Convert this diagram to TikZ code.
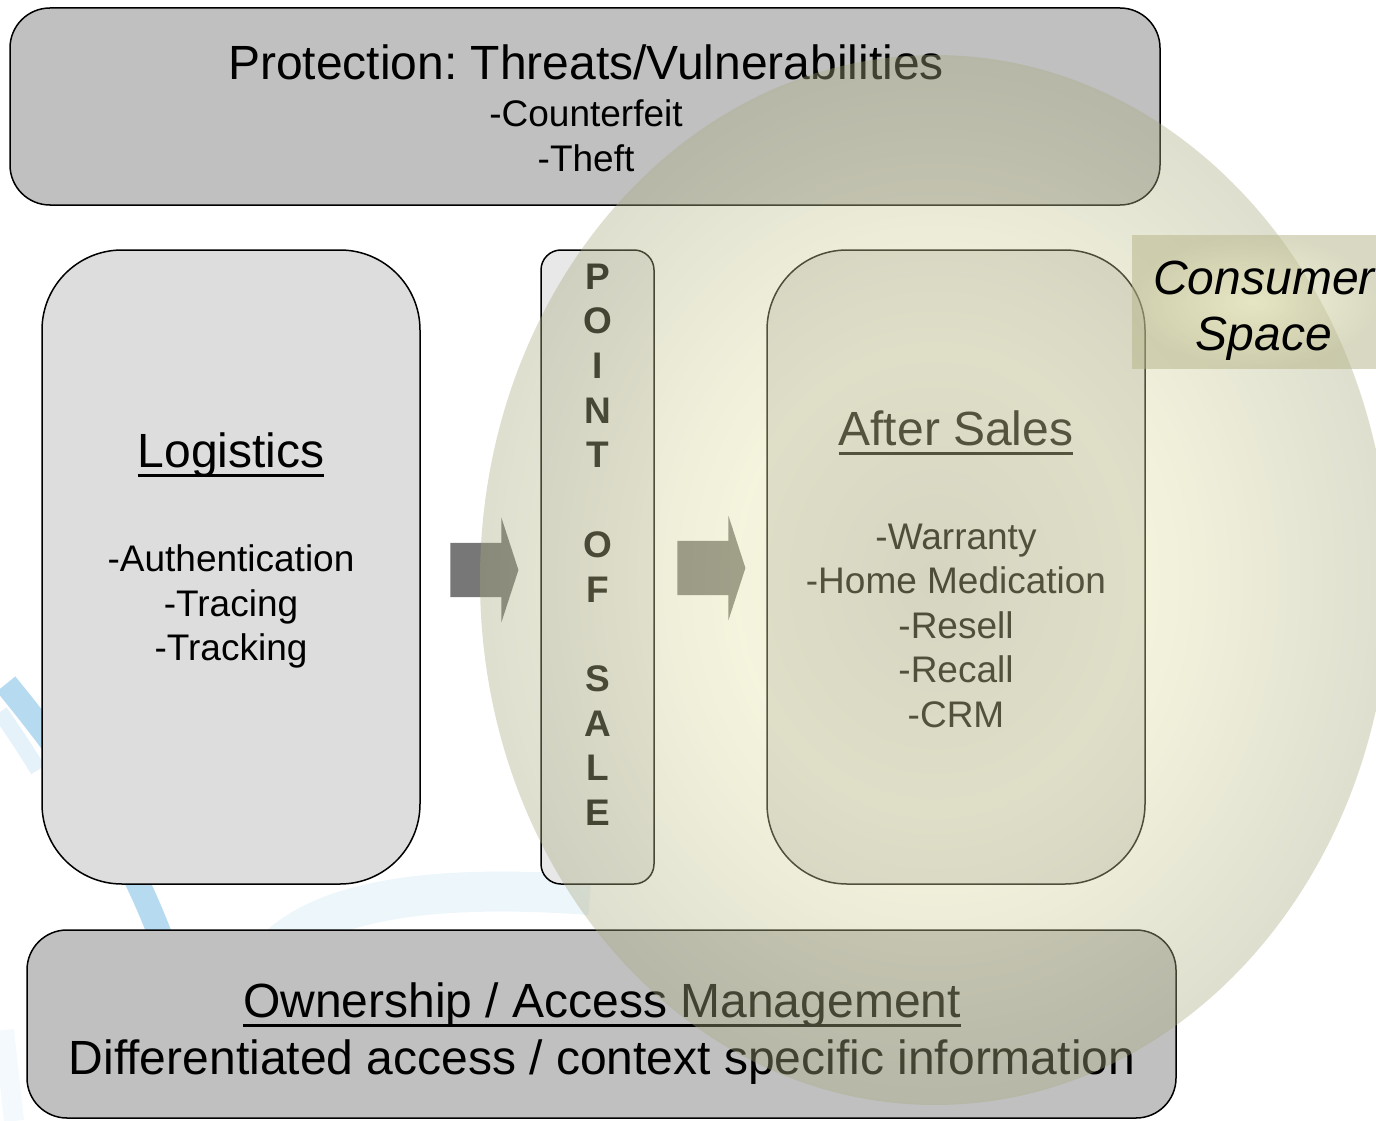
\documentclass[tikz,border=0pt]{standalone}
\usepackage{fontspec}
\setmainfont{Liberation Sans}
\usetikzlibrary{shapes.arrows}

\definecolor{topgray}{RGB}{192,192,192}
\definecolor{panelgray}{RGB}{221,221,221}
\definecolor{posgray}{RGB}{232,232,232}
\definecolor{arrowgray}{RGB}{119,119,119}
\definecolor{swoosh}{RGB}{150,202,234}
\definecolor{glowmid}{RGB}{200,200,150}
\definecolor{glowring}{RGB}{228,228,168}
\definecolor{glowedge}{RGB}{170,170,130}
\definecolor{patchin}{RGB}{232,232,180}
\definecolor{patchout}{RGB}{180,180,135}
\pgfdeclareradialshading{consumerglow}{\pgfpoint{0bp}{0bp}}{color(0bp)=(glowmid); color(11bp)=(glowring); color(25bp)=(glowedge); color(50bp)=(glowedge)}
\pgfdeclareradialshading{consumerpatch}{\pgfpoint{0bp}{0bp}}{color(0bp)=(patchin); color(25bp)=(patchout); color(50bp)=(patchout)}
\newcommand{\undl}[1]{\setbox0\hbox{#1}\rlap{\rule[-10pt]{\wd0}{2.6pt}}\box0}

\tikzset{
  panel/.style={draw=black, line width=1.5pt, inner sep=0pt},
  headtxt/.style={font=\fontsize{48}{57}\selectfont, inner sep=0pt, anchor=base},
  itemtxt/.style={font=\fontsize{37}{44.5}\selectfont, align=center, inner sep=0pt, anchor=north},
  flow/.style={single arrow, fill=arrowgray, inner xsep=0pt, inner ysep=27pt, minimum height=68pt,
    single arrow head extend=25pt, single arrow tip angle=144}
}

\begin{document}
\frenchspacing
\begin{tikzpicture}[x=1pt,y=-1pt]
   \useasboundingbox (0,0) rectangle (1376,1121);
   % faint logo in the background
   \draw[swoosh!70, line width=24pt] (6,684) .. controls (60,750) and (120,830) .. (160,935);
   \draw[swoosh!25, line width=16pt] (0,712) .. controls (14,732) and (26,750) .. (38,770);
   \draw[swoosh!18, line width=40pt] (275,950) .. controls (330,895) and (450,885) .. (590,895);
   \draw[swoosh!12, line width=20pt] (4,1030) -- (14,1121);

   \node[panel, fill=topgray, rounded corners=40pt, minimum width=1150pt, minimum height=197pt] (threats) at (585,106.5) {};
   \node[panel, fill=panelgray, rounded corners=80pt, minimum width=378pt, minimum height=634pt] (logistics) at (231,567) {};
   \node[panel, fill=posgray, rounded corners=20pt, minimum width=113pt, minimum height=634pt] (pos) at (597.5,567) {};
   \node[panel, fill=panelgray, rounded corners=80pt, minimum width=378pt, minimum height=634pt] (aftersales) at (956,567) {};
   \node[panel, fill=topgray, rounded corners=40pt, minimum width=1149pt, minimum height=188pt] (ownership) at (601.5,1024) {};

   \node[headtxt] (threatshead) at (586,80) {Protection: Threats/Vulnerabilities};
   \node[itemtxt] (threatsitems) at (586,99.5) {-Counterfeit\\-Theft};
   \node[headtxt] (logisticshead) at (231,467) {\undl{Logistics}};
   \node[itemtxt] (logisticsitems) at (231,544.5) {-Authentication\\-Tracing\\-Tracking};
   \node[itemtxt, font=\fontsize{37}{44.7}\selectfont\bfseries] (posletters) at (597.5,263.5)
      {P\\O\\I\\N\\T\\[44.7pt]O\\F\\[44.7pt]S\\A\\L\\E};
   \node[headtxt] (aftershead) at (956,445) {\undl{After Sales}};
   \node[itemtxt] (aftersitems) at (956,523.5) {-Warranty\\-Home Medication\\-Resell\\-Recall\\-CRM};
   \node[headtxt] (ownershiphead) at (602,1017) {\undl{Ownership / Access Management}};
   \node[headtxt] (ownershipline) at (602,1074) {Differentiated access / context specific information};

   \node[flow] (flowA) at (480,570) {};
   \node[flow] (flowB) at (707,568) {};

   % consumer space
   \shade[shading=consumerglow, opacity=0.38] (935,580) ellipse [x radius=455, y radius=525];
   \shade[shading=consumerpatch, opacity=0.5] (1132,235) rectangle (1376,368);
   \node[headtxt, font=\fontsize{48}{57}\selectfont\itshape] (consumer) at (1264,294) {Consumer};
   \node[headtxt, font=\fontsize{48}{57}\selectfont\itshape] (space) at (1264,350) {Space};
\end{tikzpicture}
\end{document}
